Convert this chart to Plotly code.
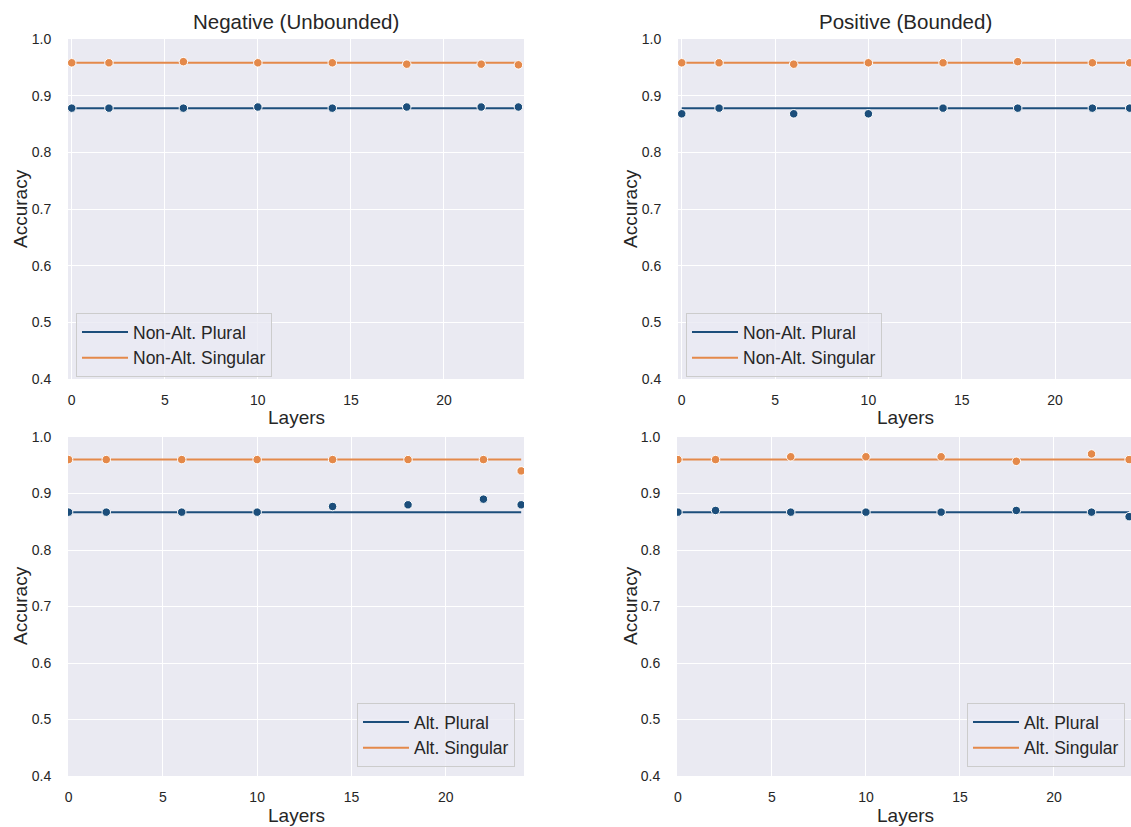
import plotly.graph_objects as go

layers = [0, 2, 6, 10, 14, 18, 22, 24]

# Top-left: Negative (Unbounded), Non-Alt.
neg_nonalt_plural_base = 0.878
neg_nonalt_plural = [0.878, 0.878, 0.878, 0.880, 0.878, 0.880, 0.880, 0.880]
neg_nonalt_singular_base = 0.958
neg_nonalt_singular = [0.958, 0.958, 0.960, 0.958, 0.958, 0.9556, 0.9556, 0.9544]

# Top-right: Positive (Bounded), Non-Alt.
pos_nonalt_plural_base = 0.878
pos_nonalt_plural = [0.868, 0.878, 0.868, 0.868, 0.878, 0.878, 0.878, 0.878]
pos_nonalt_singular_base = 0.958
pos_nonalt_singular = [0.958, 0.958, 0.9556, 0.958, 0.958, 0.960, 0.958, 0.958]

# Bottom-left: Negative, Alt.
neg_alt_plural_base = 0.867
neg_alt_plural = [0.867, 0.867, 0.867, 0.867, 0.877, 0.880, 0.890, 0.880]
neg_alt_singular_base = 0.960
neg_alt_singular = [0.960, 0.960, 0.960, 0.960, 0.960, 0.960, 0.960, 0.940]

# Bottom-right: Positive, Alt.
pos_alt_plural_base = 0.867
pos_alt_plural = [0.867, 0.870, 0.867, 0.867, 0.867, 0.870, 0.867, 0.859]
pos_alt_singular_base = 0.960
pos_alt_singular = [0.960, 0.960, 0.965, 0.965, 0.965, 0.957, 0.970, 0.960]

titles = ["Negative (Unbounded)", "Positive (Bounded)"]
x_ticks = [0, 5, 10, 15, 20]
y_ticks = [0.4, 0.5, 0.6, 0.7, 0.8, 0.9, 1.0]

BLUE = "#1c4e7b"
ORANGE = "#e4894a"
FONT = "Liberation Sans, Arial, sans-serif"
TXT = "#262626"

W, H = 1131, 827

panels = [
    ("x", "y", "legend", neg_nonalt_plural_base, neg_nonalt_plural,
     neg_nonalt_singular_base, neg_nonalt_singular, ("Non-Alt. Plural", "Non-Alt. Singular")),
    ("x2", "y2", "legend2", pos_nonalt_plural_base, pos_nonalt_plural,
     pos_nonalt_singular_base, pos_nonalt_singular, ("Non-Alt. Plural", "Non-Alt. Singular")),
    ("x3", "y3", "legend3", neg_alt_plural_base, neg_alt_plural,
     neg_alt_singular_base, neg_alt_singular, ("Alt. Plural", "Alt. Singular")),
    ("x4", "y4", "legend4", pos_alt_plural_base, pos_alt_plural,
     pos_alt_singular_base, pos_alt_singular, ("Alt. Plural", "Alt. Singular")),
]

fig = go.Figure()
for xa, ya, lg, pb, pp, sb, sp, names in panels:
    for base, color, name in [(pb, BLUE, names[0]), (sb, ORANGE, names[1])]:
        fig.add_trace(go.Scatter(
            x=layers, y=[base] * len(layers), mode="lines", name=name,
            line=dict(color=color, width=2), xaxis=xa, yaxis=ya, legend=lg,
            showlegend=True))
    for pts, color in [(pp, BLUE), (sp, ORANGE)]:
        fig.add_trace(go.Scatter(
            x=layers, y=pts, mode="markers", showlegend=False,
            marker=dict(color=color, size=8.5, line=dict(color="white", width=1)),
            xaxis=xa, yaxis=ya))

def px_x(p):
    return p / W

def px_y(p):
    return 1 - p / H

xdom = {"x": [px_x(68), px_x(524)], "x2": [px_x(678), 1.0],
        "x3": [px_x(68), px_x(524)], "x4": [px_x(677), 1.0]}
ydom = {"top": [px_y(379), px_y(39)], "bot": [px_y(776), px_y(437)]}
xr = {"x": [-0.2, 24.3], "x2": [-0.2, 24.07], "x3": [-0.03, 24.15], "x4": [-0.05, 24.1]}

axis_common = dict(showgrid=True, gridcolor="white", gridwidth=1.3, zeroline=False,
                   showline=False, ticks="outside", tickcolor="rgba(0,0,0,0)",
                   tickfont=dict(family=FONT, size=14, color=TXT))

layout = dict(
    width=W, height=H, paper_bgcolor="white", plot_bgcolor="#eaeaf2",
    margin=dict(l=0, r=0, t=0, b=0, autoexpand=False),
    font=dict(family=FONT, color=TXT),
)
ids = ["", "2", "3", "4"]
for i, k in enumerate(ids):
    xa = "x" + k
    yrow = "top" if i < 2 else "bot"
    layout["xaxis" + k] = dict(axis_common, domain=xdom[xa], range=xr[xa],
                               tickvals=x_ticks, anchor="y" + k, ticklen=8)
    layout["yaxis" + k] = dict(axis_common, domain=ydom[yrow], range=[0.4, 1.0],
                               tickvals=y_ticks, tickformat=".1f", anchor="x" + k,
                               ticklen=13)

legend_common = dict(bgcolor="rgba(234,234,242,0.8)", bordercolor="#cccccc", borderwidth=1,
                     font=dict(family=FONT, size=17.5, color=TXT), tracegroupgap=0,
                     itemwidth=46)
layout["legend"] = dict(legend_common, x=px_x(76), y=px_y(313), xanchor="left", yanchor="top")
layout["legend2"] = dict(legend_common, x=px_x(686), y=px_y(313), xanchor="left", yanchor="top")
layout["legend3"] = dict(legend_common, x=px_x(515), y=px_y(767), xanchor="right", yanchor="bottom")
layout["legend4"] = dict(legend_common, x=px_x(1125), y=px_y(767), xanchor="right", yanchor="bottom")

annotations = []
for title, cx in zip(titles, [296, 905]):
    annotations.append(dict(text=title, x=px_x(cx), y=px_y(22), xref="paper", yref="paper",
                            xanchor="center", yanchor="middle", showarrow=False,
                            font=dict(family=FONT, size=20.5, color=TXT)))
for cx, cy in [(296, 417), (905, 417), (296, 815), (905, 815)]:
    annotations.append(dict(text="Layers", x=px_x(cx), y=px_y(cy), xref="paper", yref="paper",
                            xanchor="center", yanchor="middle", showarrow=False,
                            font=dict(family=FONT, size=19, color=TXT)))
for cx, cy in [(20, 209), (630, 209), (20, 606), (630, 606)]:
    annotations.append(dict(text="Accuracy", x=px_x(cx), y=px_y(cy), xref="paper", yref="paper",
                            xanchor="center", yanchor="middle", showarrow=False, textangle=-90,
                            font=dict(family=FONT, size=19, color=TXT)))
layout["annotations"] = annotations

fig.update_layout(**layout)
fig.write_html("out.html", config={"displayModeBar": False},
               post_script="document.body.style.margin='0';")
